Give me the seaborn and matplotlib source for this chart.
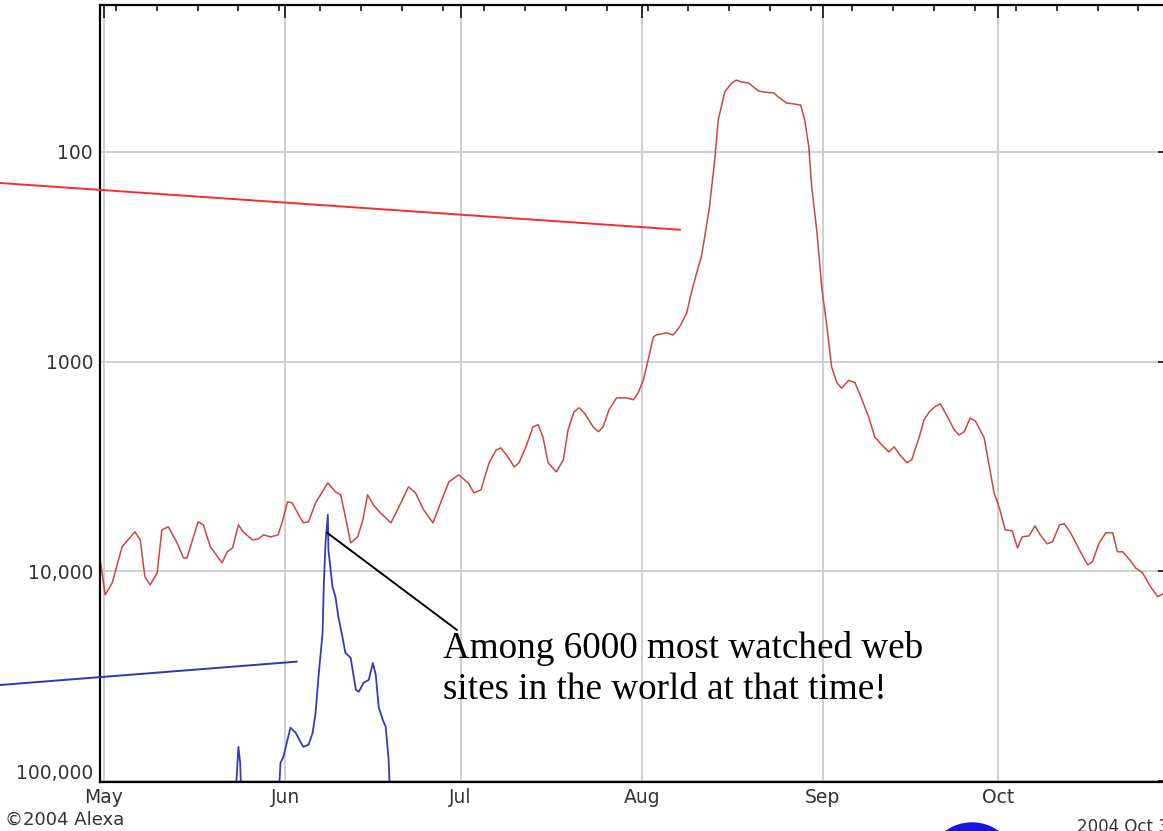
import numpy as np
import pandas as pd
import matplotlib
matplotlib.use("Agg")
import matplotlib.pyplot as plt
import matplotlib.dates as mdates
import matplotlib.ticker as mticker
from matplotlib.patches import Ellipse
from matplotlib.transforms import ScaledTranslation
import seaborn as sns

# ---------------- data ----------------
START = pd.Timestamp("2004-05-01")

# Alexa traffic rank, red series (days after 1 May 2004, rank)
red_day = [-0.6, 0.2, 1.4, 3.1, 4.1, 5.3, 6.2, 7.0, 7.9, 9.1, 9.9, 11.0, 12.5, 13.6, 14.2,
           15.3, 16.1, 17.0, 18.2, 20.2, 21.1, 22.0, 23.0, 23.8, 25.4, 26.4, 27.3, 28.5, 29.8,
           30.5, 31.4, 32.2, 33.3, 34.1, 35.0, 36.2, 38.3, 39.6, 40.5, 41.3, 42.2, 43.4, 44.3,
           45.1, 46.1, 47.3, 49.1, 50.8, 52.1, 53.3, 54.7, 56.3, 57.6, 59.0, 60.7, 62.3, 63.3,
           64.5, 65.9, 67.1, 67.9, 69.1, 70.2, 71.0, 72.2, 73.4, 74.3, 75.1, 76.0, 77.4, 78.6,
           79.4, 80.4, 81.3, 82.2, 83.7, 84.6, 85.4, 86.4, 87.7, 89.4, 90.6, 91.4, 92.3, 93.1,
           94.0, 94.5, 96.2, 97.4, 98.5, 99.7, 100.5, 101.4, 102.2, 102.7, 103.6, 104.5, 105.1,
           106.2, 107.4, 108.2, 109.1, 110.3, 112.0, 113.0, 114.6, 115.4, 116.8, 118.0, 119.2,
           119.9, 120.6, 121.1, 122.0, 122.8, 123.7, 124.5, 125.4, 126.2, 127.4, 128.5, 129.7,
           130.9, 131.9, 133.1, 134.3, 135.2, 136.2, 137.4, 138.2, 139.5, 140.3, 141.2, 142.2,
           143.1, 144.3, 145.5, 146.3, 147.2, 148.2, 149.1, 150.6, 151.5, 152.3, 153.2, 154.2,
           155.4, 156.3, 157.1, 158.3, 159.3, 160.2, 161.4, 162.3, 163.5, 164.3, 165.4, 166.9,
           168.3, 169.1, 170.3, 171.4, 172.6, 173.4, 174.3, 175.5, 176.5, 177.7, 179.1, 180.3,
           181.5]
red_rank = [9020, 12970, 11360, 7650, 7090, 6490, 7090, 10640, 11620, 10180, 6350, 6140, 7320,
            8640, 8640, 6860, 5810, 6010, 7650, 9120, 8080, 7740, 6010, 6490, 7090, 7010, 6710,
            6860, 6710, 5810, 4670, 4720, 5380, 5880, 5810, 4720, 3790, 4180, 4320, 5500, 7320,
            6860, 5690, 4320, 4830, 5270, 5880, 4720, 3960, 4230, 5100, 5880, 4720, 3750, 3470,
            3790, 4230, 4090, 3040, 2640, 2580, 2850, 3180, 3040, 2550, 2050, 2000, 2290, 3040,
            3360, 2940, 2120, 1740, 1660, 1760, 2050, 2160, 2050, 1700, 1490, 1490, 1520, 1410,
            1220, 982, 763, 746, 730, 746, 683, 586, 470, 378, 317, 263, 183, 109, 70.4,
            51.8, 46.9, 45.4, 46.4, 46.9, 51.2, 51.8, 52.3, 54.7, 58.4, 59.0, 59.7,
            70.4, 94.7, 147, 243, 440, 683, 1060, 1260, 1340, 1230, 1260, 1520,
            1860, 2290, 2500, 2700, 2550, 2790, 3040, 2940, 2290, 1900, 1740, 1640,
            1590, 1830, 2120, 2240, 2160, 1860, 1920, 2310, 3180, 4230, 4990, 6350,
            6420, 7740, 6860, 6780, 6080, 6710, 7400, 7240, 6010, 5940, 6560, 7910,
            9330, 9020, 7320, 6560, 6560, 8080, 8080, 8830, 9640, 10180, 11870, 13250,
            12680]

# blue series (values beyond 100,000 run off the bottom of the chart)
blue_day = [22.3, 23.0, 23.3, 23.6,
            29.7, 30.2, 30.7, 31.4, 31.9, 32.8, 33.6, 34.1, 35.0, 35.7, 36.2, 36.7, 37.4, 37.6,
            37.9, 38.3, 38.4, 39.1, 39.6, 40.1, 40.8, 41.3, 42.2, 43.1, 43.6, 44.4, 45.3, 46.0,
            46.5, 47.0, 47.7, 48.2, 48.7, 49.1]
blue_rank = [150000, 68800, 82000, 150000,
             150000, 82000, 76800, 63700, 55800, 59000, 65100, 68800, 67300, 59000, 47400,
             31900, 19700, 11870, 7320, 5380, 7910, 11870, 13250, 16500, 20600, 24500, 25900,
             36800, 37600, 34100, 33000, 27400, 31200, 44400, 51200, 55200, 79300, 150000]
blue_seg = [0, 0, 0, 0] + [1] * 34

y_ticks = [100, 1000, 10000, 100000]
y_tick_labels = ["100", "1000", "10,000", "100,000"]

# callouts: (day, rank) target and start in figure pixels
red_callout_target = (98.6, 235)
red_callout_start_px = (0, 183)
blue_callout_target = (33.0, 27000)
blue_callout_start_px = (0, 685)
note_target = (38.2, 6560)
note_start_px = (457, 630)
note_text = "Among 6000 most watched web\nsites in the world at that time!"

# ---------------- figure ----------------
W, H = 1163, 831
sns.set_style("white")
plt.rcParams["font.family"] = ["DejaVu Sans"]

fig = plt.figure(figsize=(W / 100, H / 100), dpi=100)
ax = fig.add_axes([100 / W, 1 - 782 / H, (1170 - 100) / W, (782 - 5) / H])
ax.set_yscale("log")

red_df = pd.DataFrame({"date": START + pd.to_timedelta(red_day, unit="D"), "rank": red_rank})
blue_df = pd.DataFrame({"date": START + pd.to_timedelta(blue_day, unit="D"),
                        "rank": blue_rank, "seg": blue_seg})

sns.lineplot(data=red_df, x="date", y="rank", color="#cf4444", lw=1.1,
             estimator=None, sort=False, ax=ax)
sns.lineplot(data=blue_df, x="date", y="rank", units="seg", color="#3a3ab8", lw=1.3,
             estimator=None, sort=False, ax=ax)

ax.set_ylim(101300, 19.9)
ax.set_xlim(START + pd.Timedelta(days=-0.685), START + pd.Timedelta(days=182.4))
ax.set_xlabel("")
ax.set_ylabel("")

ax.xaxis.set_major_locator(mdates.MonthLocator())
ax.xaxis.set_major_formatter(mdates.DateFormatter("%b"))
ax.xaxis.set_minor_locator(mdates.WeekdayLocator(byweekday=mdates.MO))
ax.yaxis.set_major_locator(mticker.FixedLocator(y_ticks))
ax.yaxis.set_major_formatter(mticker.FixedFormatter(y_tick_labels))
ax.yaxis.set_minor_locator(mticker.LogLocator(base=10, subs=np.arange(2, 10), numticks=20))
ax.yaxis.set_minor_formatter(mticker.NullFormatter())

ax.grid(which="major", color="#cccccc", lw=1.3)
ax.grid(which="minor", visible=False)
ax.set_axisbelow(True)

ax.tick_params(which="both", direction="in", top=True, right=True, color="black", width=1.1)
ax.tick_params(which="major", length=9)
ax.tick_params(which="minor", length=4.5)
ax.tick_params(axis="y", which="major", labelsize=13.5, pad=5, labelcolor="#333333")
ax.tick_params(axis="x", which="major", labelsize=13.5, pad=4, labelcolor="#333333")
for s in ["left", "bottom", "top", "right"]:
    ax.spines[s].set_visible(True)
    ax.spines[s].set_color("black")
    ax.spines[s].set_linewidth(1.6)

# lift the bottom rank label a little, as in the original
fig.canvas.draw()
lab = ax.yaxis.get_major_ticks()[-1].label1
lab.set_transform(lab.get_transform() + ScaledTranslation(0, 0.09, fig.dpi_scale_trans))


def px(p):
    return (p[0] / W, 1 - p[1] / H)


def day_xy(t):
    return (START + pd.Timedelta(days=t[0]), t[1])


for target, start, col in [(red_callout_target, red_callout_start_px, "#ff2a2a"),
                           (blue_callout_target, blue_callout_start_px, "#3434b4"),
                           (note_target, note_start_px, "black")]:
    ax.annotate("", xy=day_xy(target), xycoords="data",
                xytext=px(start), textcoords="figure fraction",
                arrowprops=dict(arrowstyle="-", color=col, lw=1.4, shrinkA=0, shrinkB=0),
                annotation_clip=False)

fig.text(443 / W, 1 - 631 / H, note_text, ha="left", va="top",
         family=["Liberation Serif", "DejaVu Serif"], fontsize=26.7, linespacing=1.25,
         color="black")

fig.text(5 / W, 1 - 820 / H, "\u00a92004 Alexa", ha="left", va="center", fontsize=13,
         color="#333333")
fig.text(1077 / W, 1 - 818 / H, "2004 Oct 3", ha="left", va="top", fontsize=12,
         color="#333333")
fig.add_artist(Ellipse((972 / W, 1 - 868 / H), 90 / W, 90 / H, color="#1414e6",
                       transform=fig.transFigure))

fig.savefig("out.png", dpi=100)
